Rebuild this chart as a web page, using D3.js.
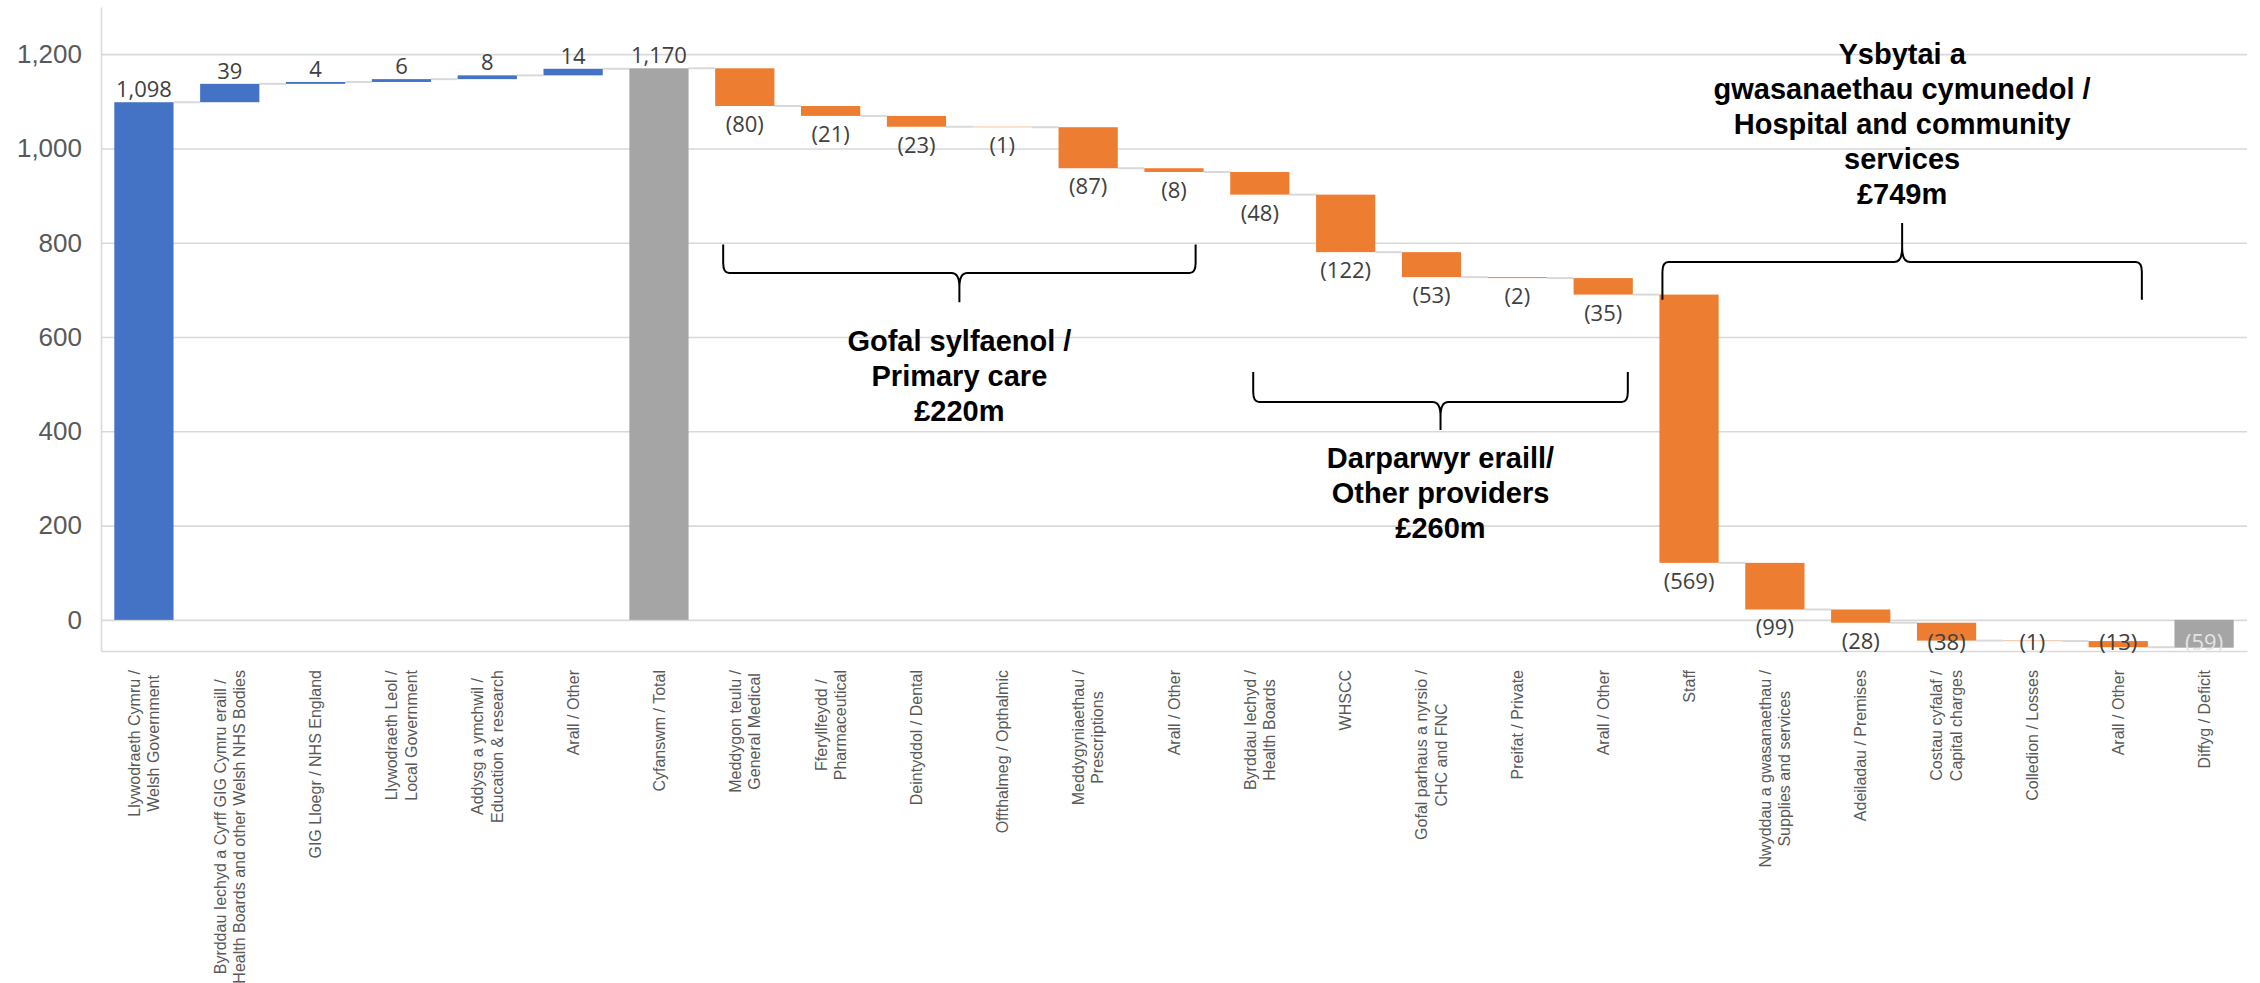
<!DOCTYPE html>
<html>
<head>
<meta charset="utf-8">
<script src="https://cdn.jsdelivr.net/npm/d3@7"></script>
<style>
  html, body { margin: 0; padding: 0; background: #fff; }
  svg { display: block; }
</style>
</head>
<body>
<div id="chart"></div>
<script>
// categories, one entry per bar, split into the lines shown under the axis
const categories = [
    ['Llywodraeth Cymru /', 'Welsh Government'],
    ['Byrddau Iechyd a Cyrff GIG Cymru eraill /', 'Health Boards and other Welsh NHS Bodies'],
    ['GIG Lloegr / NHS England'],
    ['Llywodraeth Leol /', 'Local Government'],
    ['Addysg a ymchwil /', 'Education & research'],
    ['Arall / Other'],
    ['Cyfanswm / Total'],
    ['Meddygon teulu /', 'General Medical'],
    ['Fferyllfeydd /', 'Pharmaceutical'],
    ['Deintyddol / Dental'],
    ['Offthalmeg / Opthalmic'],
    ['Meddygyniaethau /', 'Prescriptions'],
    ['Arall / Other'],
    ['Byrddau Iechyd /', 'Health Boards'],
    ['WHSCC'],
    ['Gofal parhaus a nyrsio /', 'CHC and FNC'],
    ['Preifat / Private'],
    ['Arall / Other'],
    ['Staff'],
    ['Nwyddau a gwasanaethau /', 'Supplies and services'],
    ['Adeiladau / Premises'],
    ['Costau cyfalaf /', 'Capital charges'],
    ['Colledion / Losses'],
    ['Arall / Other'],
    ['Diffyg / Deficit']
];

const values = [1098, 39, 4, 6, 8, 14, 1170,
    -80, -21, -23, -1, -87, -8,
    -48, -122, -53, -2, -35,
    -569, -99, -28, -38, -1, -13,
    -59];

// 'in' = income step, 'out' = spending step, 'total' = bar from zero
const barTypes = ['in', 'in', 'in', 'in', 'in', 'in', 'total',
    'out', 'out', 'out', 'out', 'out', 'out',
    'out', 'out', 'out', 'out', 'out',
    'out', 'out', 'out', 'out', 'out', 'out',
    'total'];

const yTicks = [0, 200, 400, 600, 800, 1000, 1200];

// bracketed groups of spending bars
const groupNames = [
    ['Gofal sylfaenol /', 'Primary care', '£220m'],
    ['Darparwyr eraill/', 'Other providers', '£260m'],
    ['Ysbytai a', 'gwasanaethau cymunedol /', 'Hospital and community', 'services', '£749m']
];
const groupFirstBar = [7, 13, 18];
const groupLastBar = [12, 17, 23];
// brace levels in chart units: ends, middle bar, tip; first text line
const groupBraceEnds = [796, 526, 679];
const groupBraceMid = [736, 462, 759];
const groupBraceTip = [674, 403, 842];
const groupTextTop = [592, 344, 1200];

const CONFIG = {
    WIDTH: 2260,
    HEIGHT: 983,
    LEFT: 101,
    RIGHT: 2247,
    TOP: 7,
    BOTTOM: 651,
    Y_MIN: -66,
    Y_MAX: 1300,
    COLORS: { in: '#4472C4', out: '#ED7D31', total: '#A5A5A5' },
    GRID: '#D9D9D9',
    AXIS_TEXT: '#595959',
    LABEL_TEXT: '#404040',
    AXIS_FONT: '"Liberation Sans", Arial, sans-serif',
    LABEL_FONT: '"Open Sans", "Noto Sans", sans-serif',
    CAT_LABEL_TOP: 670,
    CAT_LINE: 19.4,
    BRACE_INSETS: [[8, 8], [23, 5], [3, 6]],
    NOTE_LINE: 35
};

const svg = d3.select('#chart').append('svg')
    .attr('width', CONFIG.WIDTH)
    .attr('height', CONFIG.HEIGHT)
    .attr('xmlns', 'http://www.w3.org/2000/svg');

const x = d3.scaleBand()
    .domain(d3.range(values.length))
    .range([CONFIG.LEFT, CONFIG.RIGHT])
    .paddingInner(0.31)
    .paddingOuter(0.155);

const y = d3.scaleLinear()
    .domain([CONFIG.Y_MIN, CONFIG.Y_MAX])
    .range([CONFIG.BOTTOM, CONFIG.TOP]);

// gridlines and y axis
const yAxis = svg.append('g')
    .attr('transform', 'translate(' + CONFIG.LEFT + ',0)')
    .call(d3.axisLeft(y)
        .tickValues(yTicks)
        .tickSize(-(CONFIG.RIGHT - CONFIG.LEFT))
        .tickSizeOuter(0)
        .tickPadding(19)
        .tickFormat(d3.format(',')));
yAxis.selectAll('.tick line').attr('stroke', CONFIG.GRID).attr('stroke-width', 1.6);
yAxis.select('.domain').attr('stroke', CONFIG.GRID).attr('stroke-width', 1.6);
yAxis.selectAll('.tick text')
    .attr('fill', CONFIG.AXIS_TEXT)
    .style('font-family', CONFIG.AXIS_FONT)
    .style('font-size', '26px');

const xAxis = svg.append('g')
    .attr('transform', 'translate(0,' + CONFIG.BOTTOM + ')')
    .call(d3.axisBottom(x).tickSize(0).tickSizeOuter(0).tickFormat(''));
xAxis.select('.domain').attr('stroke', CONFIG.GRID).attr('stroke-width', 1.6);

// waterfall steps
let level = 0;
const steps = values.map(function (v, i) {
    let from, to;
    if (barTypes[i] === 'total') {
        from = 0;
        to = v;
    } else {
        from = level;
        to = level + v;
    }
    level = to;
    return { i: i, v: v, type: barTypes[i], from: from, to: to };
});

// connectors
svg.append('g').selectAll('line')
    .data(steps.slice(0, -1))
    .enter().append('line')
    .attr('x1', function (d) { return x(d.i) + x.bandwidth(); })
    .attr('x2', function (d) { return x(d.i + 1); })
    .attr('y1', function (d) { return y(d.to); })
    .attr('y2', function (d) { return y(d.to); })
    .attr('stroke', CONFIG.GRID)
    .attr('stroke-width', 2);

svg.append('g').selectAll('rect')
    .data(steps)
    .enter().append('rect')
    .attr('x', function (d) { return x(d.i); })
    .attr('width', x.bandwidth())
    .attr('y', function (d) { return y(Math.max(d.from, d.to)); })
    .attr('height', function (d) { return Math.abs(y(d.from) - y(d.to)); })
    .attr('fill', function (d) { return CONFIG.COLORS[d.type]; });

// value labels
svg.append('g').selectAll('text')
    .data(steps)
    .enter().append('text')
    .attr('x', function (d) { return x(d.i) + x.bandwidth() / 2; })
    .attr('y', function (d) {
        if (d.v >= 0) {
            return y(Math.max(d.from, d.to)) - 13;
        }
        return Math.min(y(Math.min(d.from, d.to)) + 18, 642);
    })
    .attr('dy', '0.36em')
    .attr('text-anchor', 'middle')
    .style('font-family', CONFIG.LABEL_FONT)
    .style('font-size', '22px')
    .attr('fill', function (d) {
        return (d.type === 'total' && d.v < 0) ? '#E4E4E4' : CONFIG.LABEL_TEXT;
    })
    .text(function (d) {
        return d.v < 0 ? '(' + Math.abs(d.v) + ')' : d3.format(',')(d.v);
    });

// category labels, rotated, lines centred on each other
const catGroups = svg.append('g').selectAll('g')
    .data(categories)
    .enter().append('g')
    .attr('transform', function (d, i) {
        return 'translate(' + (x(i) + x.bandwidth() / 2) + ',' + CONFIG.CAT_LABEL_TOP + ')rotate(-90)';
    });

catGroups.each(function (lines) {
    const g = d3.select(this);
    const texts = g.selectAll('text')
        .data(lines)
        .enter().append('text')
        .attr('y', function (d, j) { return (j - (lines.length - 1) / 2) * CONFIG.CAT_LINE; })
        .attr('dy', '0.35em')
        .attr('text-anchor', 'middle')
        .attr('fill', CONFIG.AXIS_TEXT)
        .style('font-family', CONFIG.AXIS_FONT)
        .style('font-size', '16px')
        .text(function (d) { return d; });
    let maxLen = 0;
    texts.each(function () { maxLen = Math.max(maxLen, this.getComputedTextLength()); });
    texts.attr('x', -maxLen / 2);
});

// braces and group notes
function bracePath(x1, x2, yEnd, yMid, yTip) {
    const xc = (x1 + x2) / 2;
    const s = Math.sign(yTip - yEnd);
    const cx = 6, cy = 10, tx = 8, ty = 14;
    return 'M' + x1 + ',' + yEnd +
        'L' + x1 + ',' + (yMid - s * cy) +
        'Q' + x1 + ',' + yMid + ' ' + (x1 + cx) + ',' + yMid +
        'L' + (xc - tx) + ',' + yMid +
        'Q' + xc + ',' + yMid + ' ' + xc + ',' + (yMid + s * ty) +
        'L' + xc + ',' + yTip +
        'M' + xc + ',' + (yMid + s * ty) +
        'Q' + xc + ',' + yMid + ' ' + (xc + tx) + ',' + yMid +
        'L' + (x2 - cx) + ',' + yMid +
        'Q' + x2 + ',' + yMid + ' ' + x2 + ',' + (yMid - s * cy) +
        'L' + x2 + ',' + yEnd;
}

const notes = svg.append('g');
groupNames.forEach(function (lines, k) {
    const x1 = x(groupFirstBar[k]) + CONFIG.BRACE_INSETS[k][0];
    const x2 = x(groupLastBar[k]) + x.bandwidth() - CONFIG.BRACE_INSETS[k][1];
    notes.append('path')
        .attr('d', bracePath(x1, x2, y(groupBraceEnds[k]), y(groupBraceMid[k]), y(groupBraceTip[k])))
        .attr('fill', 'none')
        .attr('stroke', '#000')
        .attr('stroke-width', 2);
    notes.append('g').selectAll('text')
        .data(lines)
        .enter().append('text')
        .attr('x', (x1 + x2) / 2)
        .attr('y', function (d, j) { return y(groupTextTop[k]) + j * CONFIG.NOTE_LINE; })
        .attr('dy', '0.35em')
        .attr('text-anchor', 'middle')
        .attr('fill', '#000')
        .style('font-family', CONFIG.AXIS_FONT)
        .style('font-weight', 'bold')
        .style('font-size', '29px')
        .text(function (d) { return d; });
});
</script>
</body>
</html>
